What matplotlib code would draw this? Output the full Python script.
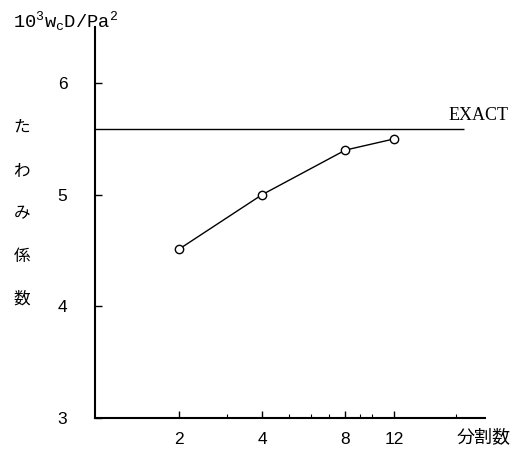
import numpy as np
import matplotlib
matplotlib.use('Agg')
import matplotlib.pyplot as plt
from matplotlib.ticker import FixedLocator, NullFormatter

plt.rcParams['font.family'] = ['Liberation Sans', 'Noto Sans CJK JP']
plt.rcParams['mathtext.fontset'] = 'custom'
plt.rcParams['mathtext.rm'] = 'Liberation Mono'
plt.rcParams['mathtext.it'] = 'Liberation Mono'

# data
divisions = [2, 4, 8, 12]
deflection = [4.51, 5.00, 5.40, 5.50]
exact = 5.59
major_ticks = [2, 4, 8, 12]
minor_ticks = [3, 5, 6, 7, 9, 10, 20]
y_ticks = [3, 4, 5, 6]

fig = plt.figure(figsize=(5.17, 4.61), dpi=100)
ax = fig.add_axes([0.184, 0.093, 0.754, 0.848])

ax.plot(divisions, deflection, color='black', lw=1.0, marker='o', ms=6,
        mfc='white', mec='black', mew=1.0, zorder=3)
ax.hlines(exact, 1, 21.5, color='black', lw=1.0)
ax.text(18.8, exact + 0.04, 'EXACT', family='Liberation Serif', fontsize=13,
        ha='left', va='bottom')

ax.set_xscale('log')
ax.set_xlim(1, 25.5)
ax.set_ylim(3, 6.5)
ax.xaxis.set_major_locator(FixedLocator(major_ticks))
ax.xaxis.set_minor_locator(FixedLocator(minor_ticks))
ax.xaxis.set_minor_formatter(NullFormatter())
ax.set_xticklabels([str(t) for t in major_ticks])
ax.set_yticks(y_ticks)

for s in ['top', 'right']:
    ax.spines[s].set_visible(False)
for s in ['left', 'bottom']:
    ax.spines[s].set_linewidth(1.5)
ax.tick_params(which='major', direction='in', length=5, width=1.0,
               labelsize=12.5, pad=10)
ax.tick_params(which='minor', direction='in', length=3, width=0.8)
ax.tick_params(axis='y', pad=20)

fig.text(0.025, 0.955, r'$\mathrm{10^3w_cD/Pa^2}$', fontsize=13.5, ha='left', va='center')
fig.text(0.042, 0.742, '\n'.join('たわみ係数'), family='Noto Sans CJK JP',
         fontsize=12, ha='center', va='top', linespacing=3.0)
fig.text(0.988, 0.052, '分割数', family='Noto Sans CJK JP', fontsize=13,
         ha='right', va='center')

fig.savefig('out.png', dpi=100)
